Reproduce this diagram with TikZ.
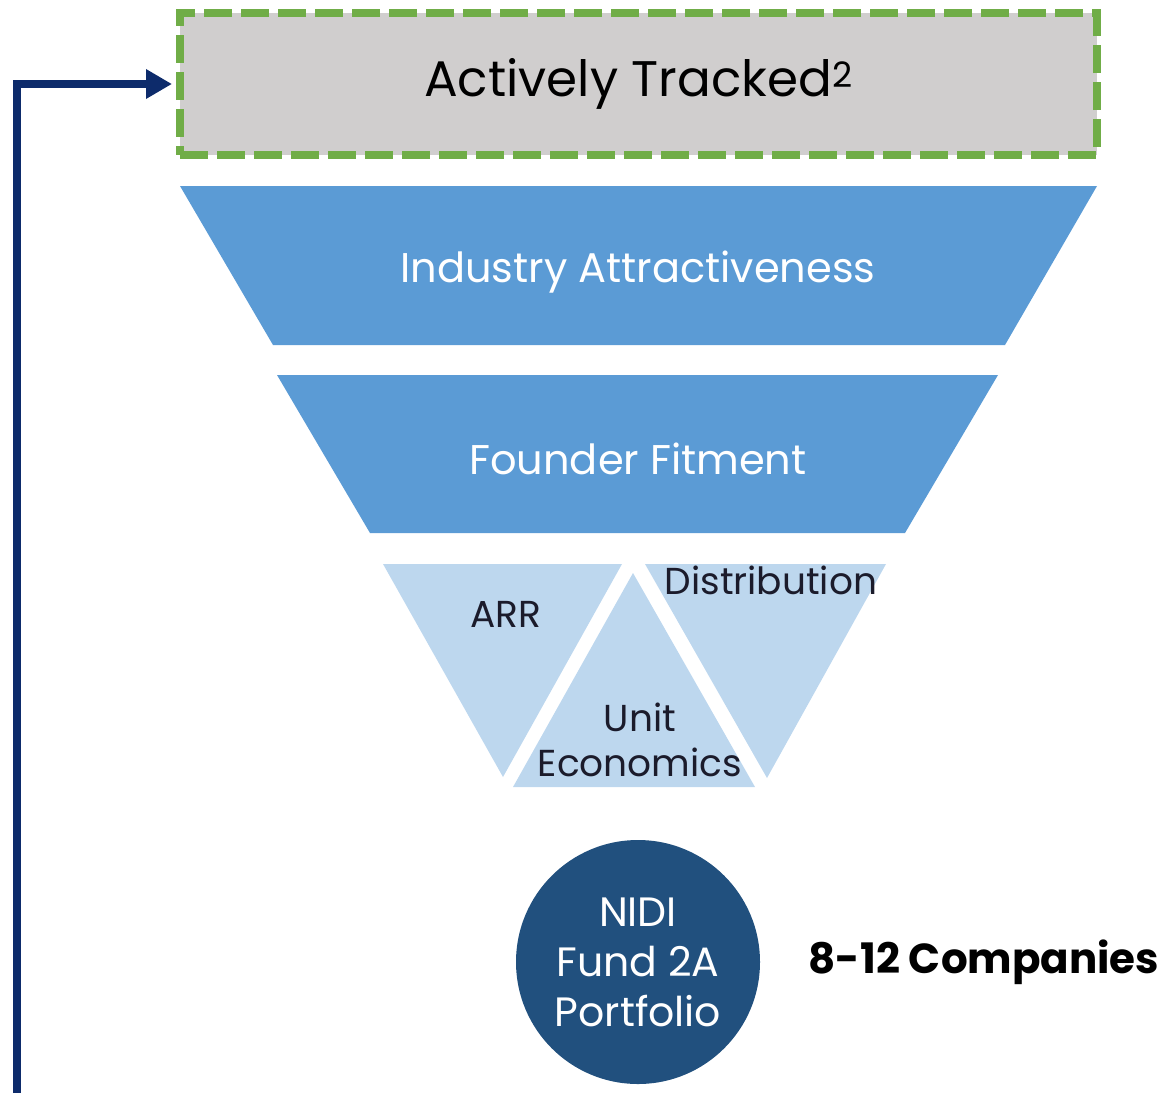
\documentclass[tikz,border=0pt]{standalone}
\usepackage{fontspec}
\setmainfont{Poppins}
\usetikzlibrary{arrows.meta}
\definecolor{trackgray}{HTML}{D0CECE}
\definecolor{trackgreen}{HTML}{70AD47}
\definecolor{loopnavy}{HTML}{0D2B6B}
\definecolor{funnelblue}{HTML}{5B9BD5}
\definecolor{wedgeblue}{HTML}{BDD7EE}
\definecolor{portfolioblue}{HTML}{21507E}
\definecolor{wedgetext}{HTML}{1B1B2B}

\tikzset{
  trackbox/.style={rectangle, fill=trackgray, draw=trackgreen, line width=8pt,
    dash pattern=on 28pt off 9pt, minimum width=917pt, minimum height=142pt,
    inner sep=0pt, font=\fontsize{50}{60}\selectfont},
  looparrow/.style={loopnavy, line width=8pt, shorten >=4pt,
    -{Triangle[length=26pt, width=28pt]}},
  funneltext/.style={text=white, font=\fontsize{41.5}{50}\selectfont},
  wedgelabel/.style={text=wedgetext, align=center, font=\fontsize{37.5}{45}\selectfont},
  portfolio/.style={circle, fill=portfolioblue, minimum size=244pt, inner sep=0pt,
    text=white, align=center, font=\fontsize{41}{50}\selectfont},
}

\begin{document}
\begin{tikzpicture}[x=1pt, y=-1pt]

\useasboundingbox (0,0) rectangle (1172,1093);

% Tracked box and feedback arrow
\node[trackbox] (tracked) at (638.5,84) {\raisebox{-3pt}{Actively Tracked\textsuperscript{2}}};
\coordinate (loop) at (17,1093);
\draw[looparrow] (loop) |- (tracked.west);

% Funnel bands
\fill[funnelblue] (180,186) -- (1097,186) -- (1005,345) -- (273,345) -- cycle;
\fill[funnelblue] (277,375) -- (998,375) -- (905,533) -- (370,533) -- cycle;
\node[funneltext] (industry) at (638,272) {Industry Attractiveness};
\node[funneltext] (founder)  at (638,459) {Founder Fitment};

% Wedges
\fill[wedgeblue] (383,564) -- (622,564) -- (503,777) -- cycle;
\fill[wedgeblue] (633,573) -- (755,787) -- (513,787) -- cycle;
\fill[wedgeblue] (645,564) -- (886,564) -- (767,778) -- cycle;
\node[wedgelabel] (arr)   at (506,614) {ARR};
\node[wedgelabel] (distr) at (771,580) {Distribution};
\node[wedgelabel] (unit)  at (640,740) {Unit\\Economics};

% Portfolio
\node[portfolio] (fund) at (638,962) {NIDI\\Fund 2A\\Portfolio};
\node[font=\fontsize{42}{50}\selectfont\bfseries] (count) at (984,962) {8-12 Companies};

\end{tikzpicture}
\end{document}
